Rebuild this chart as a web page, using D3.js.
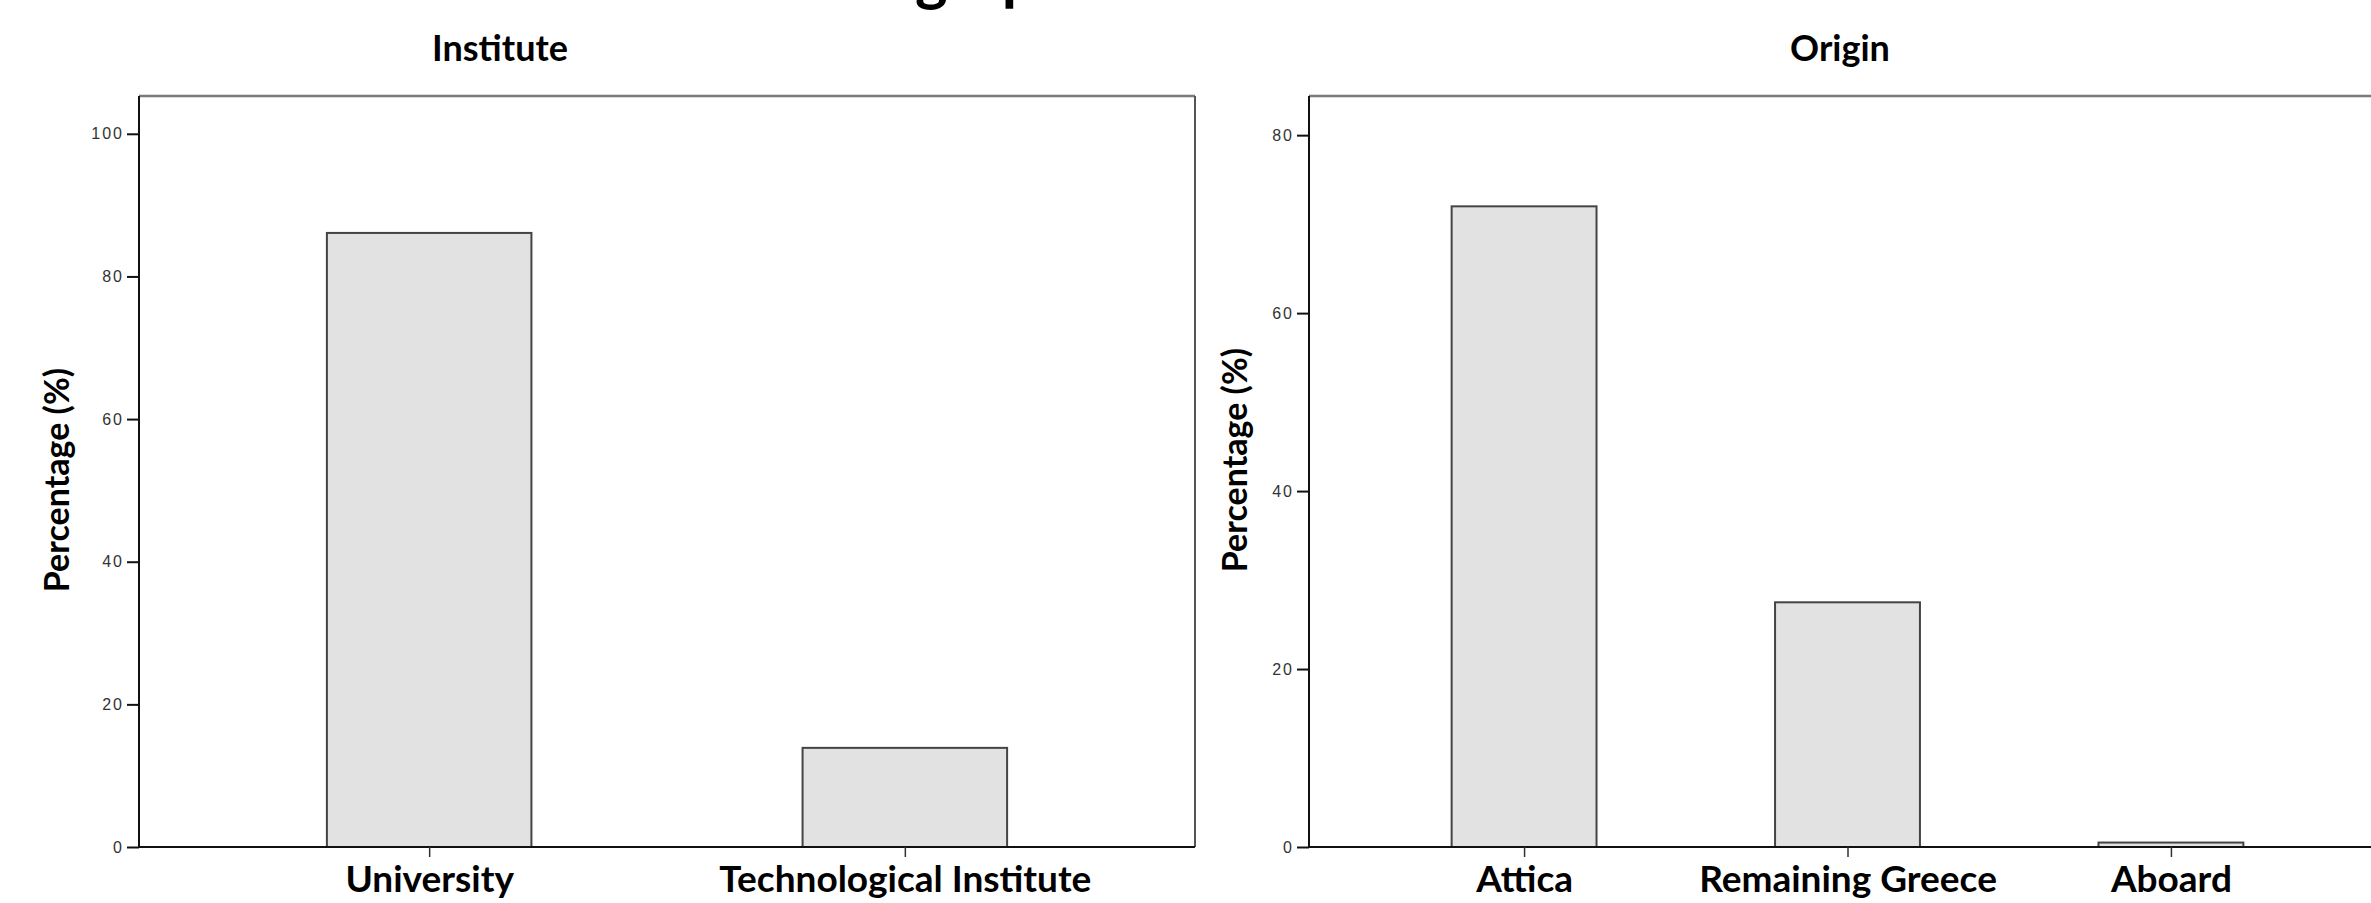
<!DOCTYPE html>
<html>
<head>
<meta charset="utf-8">
<script src="https://cdn.jsdelivr.net/npm/d3@7"></script>
<style>
  html, body { margin: 0; padding: 0; background: #fff; }
  svg { display: block; }
</style>
</head>
<body>
<svg id="chart" width="2371" height="903"></svg>
<script>
// ---- data ----
const mainTitle = "Demographic characteristics";
const instituteTitle = "Institute";
const instituteCategories = ["University", "Technological Institute"];
const instituteValues = [86.1, 13.9];
const instituteTicks = [0, 20, 40, 60, 80, 100];

const originTitle = "Origin";
const originCategories = ["Attica", "Remaining Greece", "Aboard"];
const originValues = [72.0, 27.5, 0.5];
const originTicks = [0, 20, 40, 60, 80];

const yLabel = "Percentage (%)";

// ---- drawing ----
const svg = d3.select("#chart");
const labelFont = "Lato, 'Open Sans', sans-serif";
const tickFont = "'Liberation Sans', Arial, sans-serif";

svg.append("text")
  .attr("x", 1140).attr("y", -1)
  .attr("text-anchor", "middle")
  .attr("font-family", labelFont).attr("font-weight", "bold")
  .attr("font-size", 62).attr("fill", "#000")
  .text(mainTitle);

function panel(opt) {
  const g = svg.append("g");
  const { left, right, top, bottom, yMax, padding, barFrac } = opt;
  const x = d3.scalePoint().domain(opt.categories).range([left, right]).padding(padding);
  const y = d3.scaleLinear().domain([0, yMax]).range([bottom, top]);
  const bw = x.step() * barFrac;

  // frame (top and right)
  g.append("line").attr("x1", left).attr("x2", right).attr("y1", top).attr("y2", top)
    .attr("stroke", "#7a7a7a").attr("stroke-width", 2.5);
  g.append("line").attr("x1", right).attr("x2", right).attr("y1", top).attr("y2", bottom)
    .attr("stroke", "#555").attr("stroke-width", 2);

  // bars
  g.selectAll("rect.bar").data(opt.values).join("rect")
    .attr("class", "bar")
    .attr("x", (d, i) => x(opt.categories[i]) - bw / 2)
    .attr("width", bw)
    .attr("y", d => y(d))
    .attr("height", d => y(0) - y(d))
    .attr("fill", "#e2e2e2")
    .attr("stroke", "#444")
    .attr("stroke-width", 2);

  // y axis
  const ya = g.append("g").attr("transform", `translate(${left},0)`)
    .call(d3.axisLeft(y).tickValues(opt.ticks).tickSize(12).tickPadding(3).tickFormat(d3.format("d")));
  ya.select(".domain").attr("stroke", "#111").attr("stroke-width", 2)
    .attr("d", `M0,${bottom}V${top}`);
  ya.selectAll(".tick line").attr("stroke", "#111").attr("stroke-width", 2);
  ya.selectAll(".tick text").attr("font-family", tickFont).attr("font-size", 16)
    .attr("letter-spacing", 2).attr("fill", "#333");

  // x axis
  const xa = g.append("g").attr("transform", `translate(0,${bottom})`)
    .call(d3.axisBottom(x).tickSize(10));
  xa.select(".domain").attr("stroke", "#111").attr("stroke-width", 2)
    .attr("d", `M${left},0H${right}`);
  xa.selectAll(".tick line").attr("stroke", "#333").attr("stroke-width", 1.5);
  xa.selectAll(".tick text")
    .attr("font-family", labelFont).attr("font-weight", "bold")
    .attr("font-size", 37).attr("fill", "#000")
    .attr("y", 45).attr("dy", 0);

  // title
  g.append("text").attr("x", opt.titleX).attr("y", 61)
    .attr("text-anchor", "middle")
    .attr("font-family", labelFont).attr("font-weight", "bold")
    .attr("font-size", 36).attr("fill", "#000")
    .text(opt.title);

  // y label
  g.append("text")
    .attr("transform", `translate(${opt.yLabelX},${opt.yLabelY}) rotate(-90)`)
    .attr("text-anchor", "middle")
    .attr("font-family", labelFont).attr("font-weight", "bold")
    .attr("font-size", 34).attr("fill", "#000")
    .text(yLabel);
}

panel({
  categories: instituteCategories, values: instituteValues, ticks: instituteTicks,
  title: instituteTitle, left: 139, right: 1195, top: 96, bottom: 847,
  yMax: 105.3, padding: 0.61, barFrac: 0.43, titleX: 500, yLabelX: 69, yLabelY: 480
});
panel({
  categories: originCategories, values: originValues, ticks: originTicks,
  title: originTitle, left: 1309, right: 2386, top: 96, bottom: 847,
  yMax: 84.4, padding: 0.665, barFrac: 0.448, titleX: 1840, yLabelX: 1247, yLabelY: 460
});
</script>
</body>
</html>
